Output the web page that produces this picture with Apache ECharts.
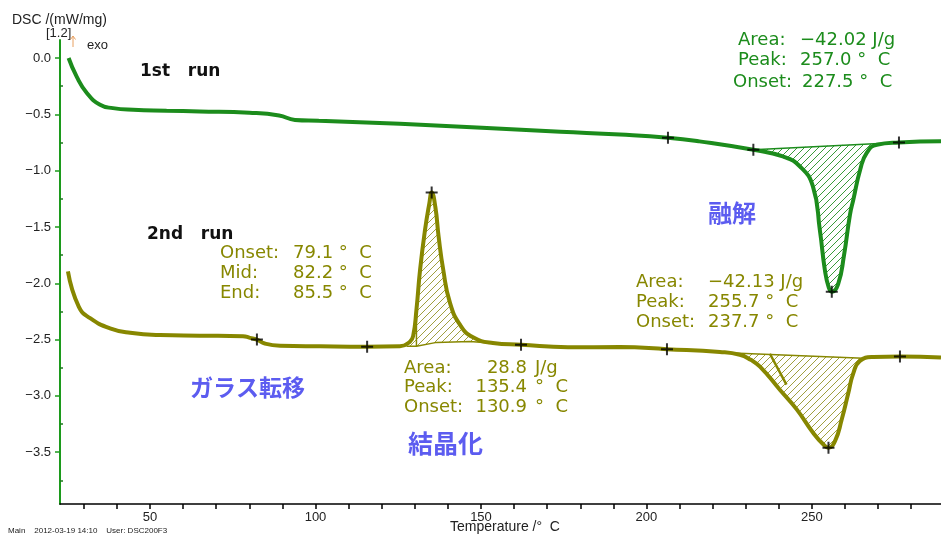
<!DOCTYPE html>
<html><head><meta charset="utf-8">
<script src="https://cdn.jsdelivr.net/npm/echarts@6/dist/echarts.min.js"></script>
<style>html,body{margin:0;padding:0;background:#fff}#c{width:941px;height:536px}</style>
</head><body><div id="c"></div>
<script>
// ---- axis ticks / labels ----
const xTicks = [30,40,50,60,70,80,90,100,110,120,130,140,150,160,170,180,190,200,210,220,230,240,250,260,270,280];
const xLabels = [50,100,150,200,250];
const yLabels = [0,-0.5,-1.0,-1.5,-2.0,-2.5,-3.0,-3.5];
const yMinor = [-0.25,-0.75,-1.25,-1.75,-2.25,-2.75,-3.25,-3.75];

// ---- 1st run ----
const run1T = [25.4,27.8,30.9,34.9,38.8,44.9,55,65,80,89,93.8,101,125.5,150.3,174,192,206.5,216,232.3,241.2,246.4,250.3,252.4,253.9,255.1,256.0,257.9,259.7,261.5,262.5,264.6,266.6,269.6,276.3,289];
const run1V = [0.0,-0.163,-0.31,-0.415,-0.445,-0.46,-0.468,-0.474,-0.486,-0.51,-0.55,-0.557,-0.584,-0.62,-0.655,-0.68,-0.708,-0.74,-0.815,-0.874,-0.963,-1.14,-1.53,-1.88,-2.04,-2.075,-2.01,-1.75,-1.39,-1.26,-0.99,-0.84,-0.77,-0.75,-0.74];
const run1Marks = [[206.5,-0.708],[232.3,-0.815],[256.0,-2.075],[276.3,-0.75]];
const run1Base = [[232.3,-0.815],[276.3,-0.75]];

// ---- 2nd run ----
const run2T = [25.2,28.5,31.9,37.9,44,53,65,78.1,80.2,82.3,84.7,89.3,101.4,115.6,125.5,128.5,129.5,130.5,131.6,133.1,134.4,135.1,136.2,137.2,138.6,140.6,143.7,147.6,153.6,162.1,176.3,192,206.2,222.2,228.2,231.5,234.3,240.3,245.4,250.4,253.4,255,257,259,261,262.5,264.5,268.5,276.6,289];
const run2V = [-1.895,-2.21,-2.31,-2.40,-2.44,-2.46,-2.465,-2.47,-2.485,-2.50,-2.535,-2.555,-2.56,-2.563,-2.56,-2.52,-2.47,-2.235,-1.88,-1.525,-1.29,-1.193,-1.32,-1.585,-1.88,-2.17,-2.37,-2.48,-2.53,-2.546,-2.568,-2.567,-2.585,-2.61,-2.635,-2.68,-2.74,-2.945,-3.12,-3.33,-3.43,-3.46,-3.40,-3.21,-2.975,-2.80,-2.69,-2.655,-2.65,-2.66];
const run2Marks = [[82.3,-2.50],[115.6,-2.563],[135.1,-1.193],[162.1,-2.546],[206.2,-2.585],[255,-3.46],[276.6,-2.65]];
const crystBase = [[127.5,-2.56],[130.5,-2.56],[136.6,-2.525],[146.7,-2.517],[152.7,-2.53]];
const crystOnset = [[130.5,-2.56],[130.5,-2.235]];
const melt2Base = [[226.2,-2.62],[265.5,-2.665]];
const melt2Tangent = [[237.3,-2.626],[242.3,-2.90]];

const GREEN = '#1c8c1c', OLIVE = '#878700', BLUE = '#5c5cf0';

function zip(T, V){ return T.map((t,i)=>[t, V[i]]); }
function interp(T, V, t){
  for (let i=0;i<T.length-1;i++){ if (t>=T[i] && t<=T[i+1]){ const f=(t-T[i])/(T[i+1]-T[i]); return V[i]+f*(V[i+1]-V[i]); } }
  return V[V.length-1];
}
function segment(T, V, a, b){
  const pts=[[a, interp(T,V,a)]];
  T.forEach((t,i)=>{ if (t>a && t<b) pts.push([t, V[i]]); });
  pts.push([b, interp(T,V,b)]);
  return pts;
}
function hatch(color){
  const s=7, c=document.createElement('canvas'); c.width=s; c.height=s;
  const g=c.getContext('2d'); g.strokeStyle=color; g.lineWidth=1;
  g.beginPath(); g.moveTo(0,s); g.lineTo(s,0); g.moveTo(-1,1); g.lineTo(1,-1); g.moveTo(s-1,s+1); g.lineTo(s+1,s-1); g.stroke();
  return c;
}
function baseAt(base, t){ return interp(base.map(p=>p[0]), base.map(p=>p[1]), t); }
function hatchSeries(poly, color){
  const pat = {image: hatch(color), repeat: 'repeat'};
  return {type:'custom', silent:true, z:1, data:[poly[0]],
    renderItem:(params, api)=>({type:'polygon', shape:{points: poly.map(p=>api.coord(p)), smooth:0.3}, style:{fill: pat, stroke: null}})};
}
const poly1 = segment(run1T, run1V, 232.3, 268.5).concat([[268.5, baseAt(run1Base,268.5)],[232.3, baseAt(run1Base,232.3)]]);
const polyC = segment(run2T, run2V, 127.5, 152.7).concat(crystBase.slice().reverse());
const poly2 = segment(run2T, run2V, 226.2, 265.5).concat([[265.5,-2.665],[226.2,-2.62]]);

const plusSym = 'path://M5,0L7,0L7,5L12,5L12,7L7,7L7,12L5,12L5,7L0,7L0,5L5,5Z';
function lineS(data, color, w, z){ return {type:'line', data, showSymbol:false, silent:true, z, lineStyle:{color, width:w}, itemStyle:{color}}; }

const LF = '"Liberation Sans", Arial, sans-serif';
const DF = '"DejaVu Sans", sans-serif';
const CJK = '"Noto Sans CJK JP", sans-serif';
function T(text, x, y, color, font, align){ return {type:'text', x, y, silent:true, style:{text, fill:color, font, textAlign: align||'left', textVerticalAlign:'middle'}}; }

const texts = [
  T('DSC /(mW/mg)', 12, 20, '#222', '14px '+LF),
  T('[1.2]', 46, 33, '#222', '13px '+LF),
  {type:'polyline', silent:true, shape:{points:[[73,47],[73,36]]}, style:{stroke:'#e8a060', lineWidth:1}},
  {type:'polyline', silent:true, shape:{points:[[70.5,39.5],[73,36],[75.5,39.5]]}, style:{stroke:'#e8a060', lineWidth:1, fill:null}},
  T('exo', 87, 45, '#222', '13px '+LF),
  T('1st   run', 140, 72, '#111', 'bold 17px '+DF),
  T('2nd   run', 147, 235, '#111', 'bold 17px '+DF),
  // 1st run melting
  T('Area:', 738, 40, GREEN, '18px '+DF), T('−42.02 J/g', 800, 40, GREEN, '18px '+DF),
  T('Peak:', 738, 60, GREEN, '18px '+DF), T('257.0 °  C', 800, 60, GREEN, '18px '+DF),
  T('Onset:', 733, 82, GREEN, '18px '+DF), T('227.5 °  C', 802, 82, GREEN, '18px '+DF),
  // glass transition
  T('Onset:', 220, 253, OLIVE, '18px '+DF), T('79.1 °  C', 293, 253, OLIVE, '18px '+DF),
  T('Mid:', 220, 273, OLIVE, '18px '+DF), T('82.2 °  C', 293, 273, OLIVE, '18px '+DF),
  T('End:', 220, 293, OLIVE, '18px '+DF), T('85.5 °  C', 293, 293, OLIVE, '18px '+DF),
  // crystallization
  T('Area:', 404, 368, OLIVE, '18px '+DF), T('28.8', 527, 368, OLIVE, '18px '+DF, 'right'), T('J/g', 535, 368, OLIVE, '18px '+DF),
  T('Peak:', 404, 387, OLIVE, '18px '+DF), T('135.4', 527, 387, OLIVE, '18px '+DF, 'right'), T('°  C', 535, 387, OLIVE, '18px '+DF),
  T('Onset:', 404, 407, OLIVE, '18px '+DF), T('130.9', 527, 407, OLIVE, '18px '+DF, 'right'), T('°  C', 535, 407, OLIVE, '18px '+DF),
  // 2nd melting
  T('Area:', 636, 282, OLIVE, '18px '+DF), T('−42.13 J/g', 708, 282, OLIVE, '18px '+DF),
  T('Peak:', 636, 302, OLIVE, '18px '+DF), T('255.7 °  C', 708, 302, OLIVE, '18px '+DF),
  T('Onset:', 636, 322, OLIVE, '18px '+DF), T('237.7 °  C', 708, 322, OLIVE, '18px '+DF),
  // Japanese labels
  T('融解', 708, 213, BLUE, 'bold 24px '+CJK),
  T('ガラス転移', 190, 387, BLUE, 'bold 23px '+CJK),
  T('結晶化', 408, 443, BLUE, 'bold 25px '+CJK),
  // footer
  T('Temperature /°  C', 505, 527, '#222', '14px '+LF, 'center'),
  T('Main    2012-03-19 14:10    User: DSC200F3', 8, 531, '#222', '8px '+LF)
];

const chart = echarts.init(document.getElementById('c'), null, {renderer:'canvas'});
chart.setOption({
  animation:false,
  backgroundColor:'#fff',
  grid:{left:60, right:0, top:40, bottom:32},
  xAxis:{type:'value', min:22.8, max:289,
    axisLine:{onZero:false, lineStyle:{color:'#000', width:1.5}},
    axisTick:{customValues:xTicks, length:5, lineStyle:{color:'#000', width:1.5}},
    axisLabel:{customValues:xLabels, color:'#222', fontSize:13, fontFamily:'Liberation Sans', margin:7},
    splitLine:{show:false}},
  yAxis:[
    {type:'value', min:-3.96, max:0.16,
     axisLine:{show:true, onZero:false, lineStyle:{color:'#1c9a1c', width:2}},
     axisTick:{show:true, customValues:yLabels, length:5, lineStyle:{color:'#1c9a1c', width:1.5}},
     axisLabel:{customValues:yLabels, color:'#222', fontSize:13, fontFamily:'Liberation Sans', margin:9,
       formatter:v=>Number(v).toFixed(1).replace('-','−')},
     splitLine:{show:false}},
    {type:'value', min:-3.96, max:0.16, position:'left',
     axisLine:{show:false, onZero:false},
     axisTick:{show:true, inside:true, customValues:yMinor, length:3, lineStyle:{color:'#1c7a1c', width:1.5}},
     axisLabel:{show:false}, splitLine:{show:false}}
  ],
  series:[
    hatchSeries(poly1, '#3a9a3a'),
    hatchSeries(polyC, '#a0a040'),
    hatchSeries(poly2, '#a0a040'),
    lineS(run1Base, GREEN, 1.5, 2),
    lineS(crystBase, OLIVE, 1.5, 2),
    lineS(crystOnset, OLIVE, 1.5, 2),
    lineS(melt2Base, OLIVE, 1.5, 2),
    lineS(melt2Tangent, OLIVE, 2.5, 2),
    Object.assign(lineS(zip(run1T, run1V), GREEN, 4, 3), {smooth:0.5}),
    Object.assign(lineS(zip(run2T, run2V), OLIVE, 4, 3), {smooth:0.5}),
    {type:'scatter', data:run1Marks.concat(run2Marks), symbol:plusSym, symbolSize:12, silent:true, z:5,
     itemStyle:{color:'#000'}}
  ],
  graphic: texts
});
</script></body></html>
